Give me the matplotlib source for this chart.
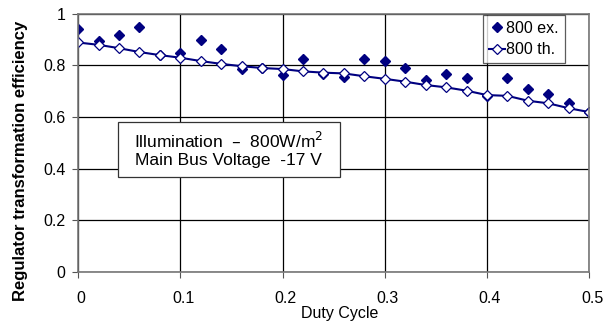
import matplotlib
matplotlib.use("Agg")
import matplotlib.pyplot as plt
import matplotlib.transforms as mtrans
from matplotlib.patches import Rectangle

plt.rcParams['font.family'] = ['Liberation Sans', 'DejaVu Sans']

duty = [0.00, 0.02, 0.04, 0.06, 0.08, 0.10, 0.12, 0.14, 0.16, 0.18, 0.20, 0.22, 0.24,
        0.26, 0.28, 0.30, 0.32, 0.34, 0.36, 0.38, 0.40, 0.42, 0.44, 0.46, 0.48, 0.50]
eff_ex = [0.941, 0.895, 0.918, 0.951, 0.841, 0.847, 0.899, 0.865, 0.785, 0.790, 0.762, 0.825, 0.767,
          0.756, 0.824, 0.819, 0.789, 0.744, 0.768, 0.750, 0.683, 0.750, 0.709, 0.689, 0.656, 0.619]
eff_th = [0.889, 0.880, 0.867, 0.852, 0.840, 0.830, 0.817, 0.806, 0.797, 0.790, 0.786, 0.777, 0.772,
          0.769, 0.758, 0.748, 0.737, 0.724, 0.715, 0.702, 0.685, 0.682, 0.663, 0.653, 0.634, 0.619]

navy = '#000080'

fig = plt.figure(figsize=(6.1, 3.23), dpi=100)
ax = fig.add_axes([0.128, 0.159, 0.838, 0.798])

ax.plot(duty, eff_ex, linestyle='none', marker='D', markersize=5.5, color=navy, label='800 ex.')
ax.plot(duty, eff_th, color=navy, linewidth=1.5, marker='D', markersize=5,
        markerfacecolor='white', markeredgecolor=navy, markeredgewidth=0.9, label='800 th.')

ax.set_xlim(0, 0.5)
ax.set_ylim(0, 1)
ax.set_xticks([0, 0.1, 0.2, 0.3, 0.4, 0.5])
ax.set_xticklabels(['0', '0.1', '0.2', '0.3', '0.4', '0.5'])
ax.set_yticks([0, 0.2, 0.4, 0.6, 0.8, 1.0])
ax.set_yticklabels(['0', '0.2', '0.4', '0.6', '0.8', '1'])
ax.tick_params(labelsize=11.5, length=4, color='#555555')
ax.tick_params(axis='x', pad=10)
ax.tick_params(axis='y', pad=5)
# tick labels in the original sit a bit right of their ticks
shift = mtrans.ScaledTranslation(3 / 100, 0, fig.dpi_scale_trans)
for lbl in ax.get_xticklabels():
    lbl.set_transform(lbl.get_transform() + shift)

ax.grid(True, color='black', linewidth=0.9)
ax.set_axisbelow(True)
for s in ax.spines.values():
    s.set_color('#777777')
    s.set_linewidth(1.2)

ax.set_xlabel('Duty Cycle', fontsize=11.5)
ax.xaxis.set_label_coords(0.512, -0.133)
ax.set_ylabel('Regulator transformation efficiency', fontsize=12, fontweight='bold')
ax.yaxis.set_label_coords(-0.098, 0.43)

leg = ax.legend(loc='upper right', bbox_to_anchor=(0.955, 1.0), fontsize=11.5, frameon=True,
                fancybox=False, handlelength=1.0, handletextpad=0.1, borderpad=0.35,
                labelspacing=0.4, borderaxespad=0.1)
leg.get_frame().set_edgecolor('#333333')
leg.get_frame().set_linewidth(0.9)

ax.add_patch(Rectangle((0.078, 0.367), 0.435, 0.214, transform=ax.transAxes,
                       facecolor='white', edgecolor='#333333', linewidth=0.9, zorder=5))
ax.text(0.295, 0.474, 'Illumination  \u2013  800W/m$^2$\nMain Bus Voltage  -17 V',
        transform=ax.transAxes, fontsize=12.5, ha='center', va='center',
        multialignment='center', linespacing=1.15, zorder=6)

fig.savefig('out.png', dpi=100)
